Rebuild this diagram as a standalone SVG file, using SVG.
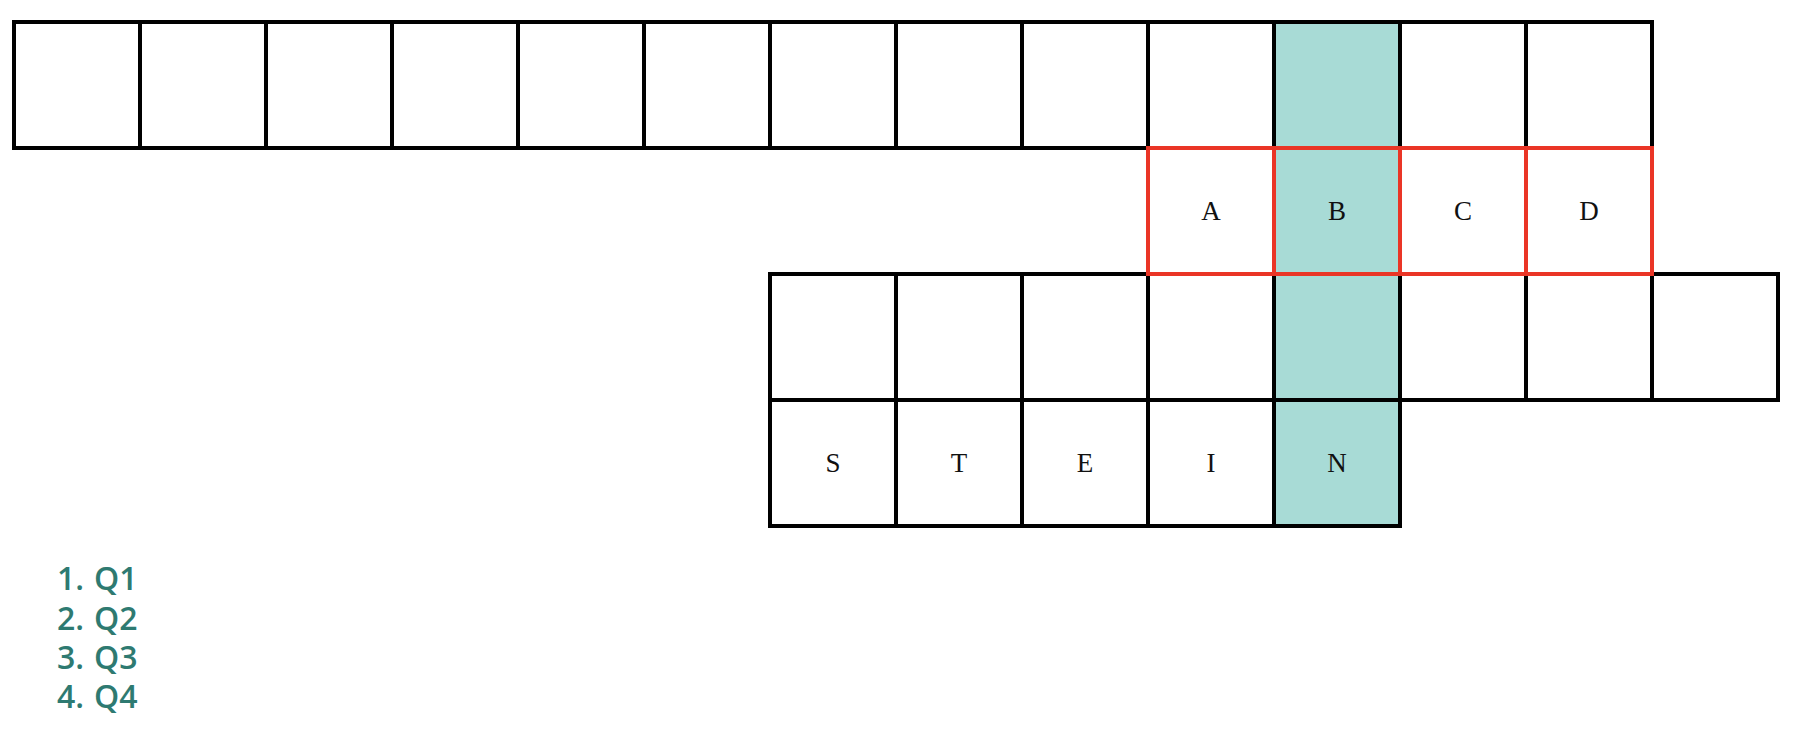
<svg xmlns="http://www.w3.org/2000/svg" width="1810" height="738" viewBox="0 0 1810 738">
<style>
.c{fill:#ffffff;stroke:#000000;stroke-width:4}
.t{fill:#a8dbd6;stroke:#000000;stroke-width:4}
.r{fill:none;stroke:#ea3526;stroke-width:4}
.l{font-family:"Liberation Serif","Times New Roman",serif;font-size:27px;fill:#111111;text-anchor:middle}
.q{font-family:"Open Sans","DejaVu Sans",sans-serif;font-size:32px;font-weight:600;fill:#2e7a71}
</style>
<rect width="1810" height="738" fill="#ffffff"/>
<g id="row1">
<rect class="c" x="14" y="22" width="126" height="126"/>
<rect class="c" x="140" y="22" width="126" height="126"/>
<rect class="c" x="266" y="22" width="126" height="126"/>
<rect class="c" x="392" y="22" width="126" height="126"/>
<rect class="c" x="518" y="22" width="126" height="126"/>
<rect class="c" x="644" y="22" width="126" height="126"/>
<rect class="c" x="770" y="22" width="126" height="126"/>
<rect class="c" x="896" y="22" width="126" height="126"/>
<rect class="c" x="1022" y="22" width="126" height="126"/>
<rect class="c" x="1148" y="22" width="126" height="126"/>
<rect class="t" x="1274" y="22" width="126" height="126"/>
<rect class="c" x="1400" y="22" width="126" height="126"/>
<rect class="c" x="1526" y="22" width="126" height="126"/>
</g>
<g id="row3">
<rect class="c" x="770" y="274" width="126" height="126"/>
<rect class="c" x="896" y="274" width="126" height="126"/>
<rect class="c" x="1022" y="274" width="126" height="126"/>
<rect class="c" x="1148" y="274" width="126" height="126"/>
<rect class="t" x="1274" y="274" width="126" height="126"/>
<rect class="c" x="1400" y="274" width="126" height="126"/>
<rect class="c" x="1526" y="274" width="126" height="126"/>
<rect class="c" x="1652" y="274" width="126" height="126"/>
</g>
<g id="row4">
<rect class="c" x="770" y="400" width="126" height="126"/>
<rect class="c" x="896" y="400" width="126" height="126"/>
<rect class="c" x="1022" y="400" width="126" height="126"/>
<rect class="c" x="1148" y="400" width="126" height="126"/>
<rect class="t" x="1274" y="400" width="126" height="126"/>
<text class="l" x="833" y="472">S</text>
<text class="l" x="959" y="472">T</text>
<text class="l" x="1085" y="472">E</text>
<text class="l" x="1211" y="472">I</text>
<text class="l" x="1337" y="472">N</text>
</g>
<g id="row2">
<rect x="1148" y="148" width="126" height="126" fill="#ffffff"/>
<rect x="1274" y="148" width="126" height="126" fill="#a8dbd6"/>
<rect x="1400" y="148" width="126" height="126" fill="#ffffff"/>
<rect x="1526" y="148" width="126" height="126" fill="#ffffff"/>
<rect class="r" x="1148" y="148" width="126" height="126"/>
<rect class="r" x="1274" y="148" width="126" height="126"/>
<rect class="r" x="1400" y="148" width="126" height="126"/>
<rect class="r" x="1526" y="148" width="126" height="126"/>
<text class="l" x="1211" y="220">A</text>
<text class="l" x="1337" y="220">B</text>
<text class="l" x="1463" y="220">C</text>
<text class="l" x="1589" y="220">D</text>
</g>
<g id="list">
<text class="q" x="84" y="590" text-anchor="end">1.</text>
<text class="q" x="94" y="590">Q1</text>
<text class="q" x="84" y="630" text-anchor="end">2.</text>
<text class="q" x="94" y="630">Q2</text>
<text class="q" x="84" y="669" text-anchor="end">3.</text>
<text class="q" x="94" y="669">Q3</text>
<text class="q" x="84" y="708" text-anchor="end">4.</text>
<text class="q" x="94" y="708">Q4</text>
</g>
</svg>
